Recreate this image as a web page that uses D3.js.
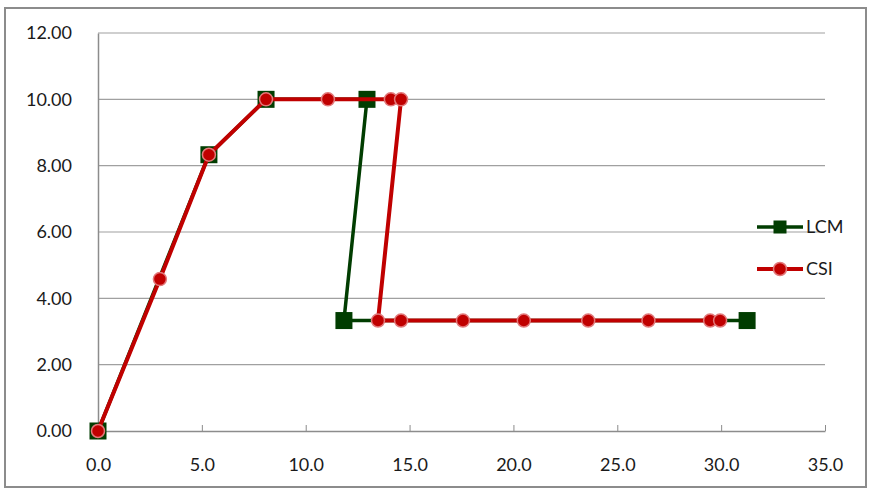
<!DOCTYPE html>
<html><head><meta charset="utf-8">
<script src="https://cdn.jsdelivr.net/npm/d3@7"></script>
<style>body{margin:0;background:#fff}svg{display:block}text{font-family:Lato,"Open Sans",sans-serif}</style>
</head><body>
<svg id="c" width="877" height="494"></svg>
<script>
const xTicks = [0,5,10,15,20,25,30,35];
const yTicks = [0,2,4,6,8,10,12];
const seriesNames = ["LCM","CSI"];
const lcmX = [0, 5.34, 8.09, 12.95, 11.84, 31.25];
const lcmY = [0, 8.33, 10, 10, 3.33, 3.33];
const csiX = [0, 2.98, 5.34, 8.09, 11.07, 14.1, 14.59, 13.48, 14.59, 17.57, 20.5, 23.6, 26.5, 29.47, 29.95];
const csiY = [0, 4.58, 8.33, 10, 10, 10, 10, 3.33, 3.33, 3.33, 3.33, 3.33, 3.33, 3.33, 3.33];

const green = "#013d01", red = "#c00000", redStroke = "#e2787a";
const svg = d3.select("#c");
svg.append("rect").attr("x",5).attr("y",8).attr("width",861).attr("height",479)
  .attr("fill","#fff").attr("stroke","#8c8c8c").attr("stroke-width",2);

const x = d3.scaleLinear().domain([0,35]).range([98,825]);
const y = d3.scaleLinear().domain([0,12]).range([431,33]);

// gridlines
svg.append("g").selectAll("line").data(yTicks.filter(d=>d>0)).join("line")
  .attr("x1",x(0)).attr("x2",x(35)).attr("y1",d=>y(d)).attr("y2",d=>y(d))
  .attr("stroke","#a0a0a0").attr("stroke-width",1.2);

// axes
const xa = svg.append("g").attr("transform",`translate(0,${y(0)})`)
  .call(d3.axisBottom(x).tickValues(xTicks).tickFormat(d3.format(".1f")).tickSizeInner(-6).tickSizeOuter(0).tickPadding(27));
xa.select(".domain").attr("stroke","#8c8c8c").attr("stroke-width",1.5);
xa.selectAll(".tick line").attr("stroke","#8c8c8c");
xa.selectAll("text").attr("font-size",18).attr("fill","#1a1a1a");
const ya = svg.append("g").attr("transform",`translate(${x(0)},0)`)
  .call(d3.axisLeft(y).tickValues(yTicks).tickFormat(d3.format(".2f")).tickSize(0).tickPadding(26));
ya.select(".domain").attr("stroke","#8c8c8c").attr("stroke-width",1.5);
ya.selectAll("text").attr("font-size",18).attr("fill","#1a1a1a");

const line = d3.line().x(d=>x(d[0])).y(d=>y(d[1]));
const lcm = lcmX.map((v,i)=>[v,lcmY[i]]);
const csi = csiX.map((v,i)=>[v,csiY[i]]);

svg.append("path").datum(lcm).attr("d",line).attr("fill","none").attr("stroke",green).attr("stroke-width",3.5).attr("stroke-linejoin","round");
svg.append("g").selectAll("rect").data(lcm).join("rect")
  .attr("x",d=>x(d[0])-8.5).attr("y",d=>y(d[1])-8.5).attr("width",17).attr("height",17).attr("fill",green);

svg.append("path").datum(csi).attr("d",line).attr("fill","none").attr("stroke",red).attr("stroke-width",4).attr("stroke-linejoin","round");
svg.append("g").selectAll("circle").data(csi).join("circle")
  .attr("cx",d=>x(d[0])).attr("cy",d=>y(d[1])).attr("r",6.5).attr("fill",red).attr("stroke",redStroke).attr("stroke-width",1.5);

// legend
const lg = svg.append("g");
const ly = [227, 269];
lg.append("line").attr("x1",757).attr("x2",803).attr("y1",ly[0]).attr("y2",ly[0]).attr("stroke",green).attr("stroke-width",3.5);
lg.append("rect").attr("x",780-6.5).attr("y",ly[0]-6.5).attr("width",13).attr("height",13).attr("fill",green);
lg.append("line").attr("x1",757).attr("x2",803).attr("y1",ly[1]).attr("y2",ly[1]).attr("stroke",red).attr("stroke-width",4);
lg.append("circle").attr("cx",780).attr("cy",ly[1]).attr("r",6.5).attr("fill",red).attr("stroke",redStroke).attr("stroke-width",1.5);
lg.selectAll("text").data(seriesNames).join("text")
  .attr("x",806).attr("y",(d,i)=>ly[i]).attr("dy","0.35em").attr("font-size",18).attr("fill","#1a1a1a").text(d=>d);
</script>
</body></html>
